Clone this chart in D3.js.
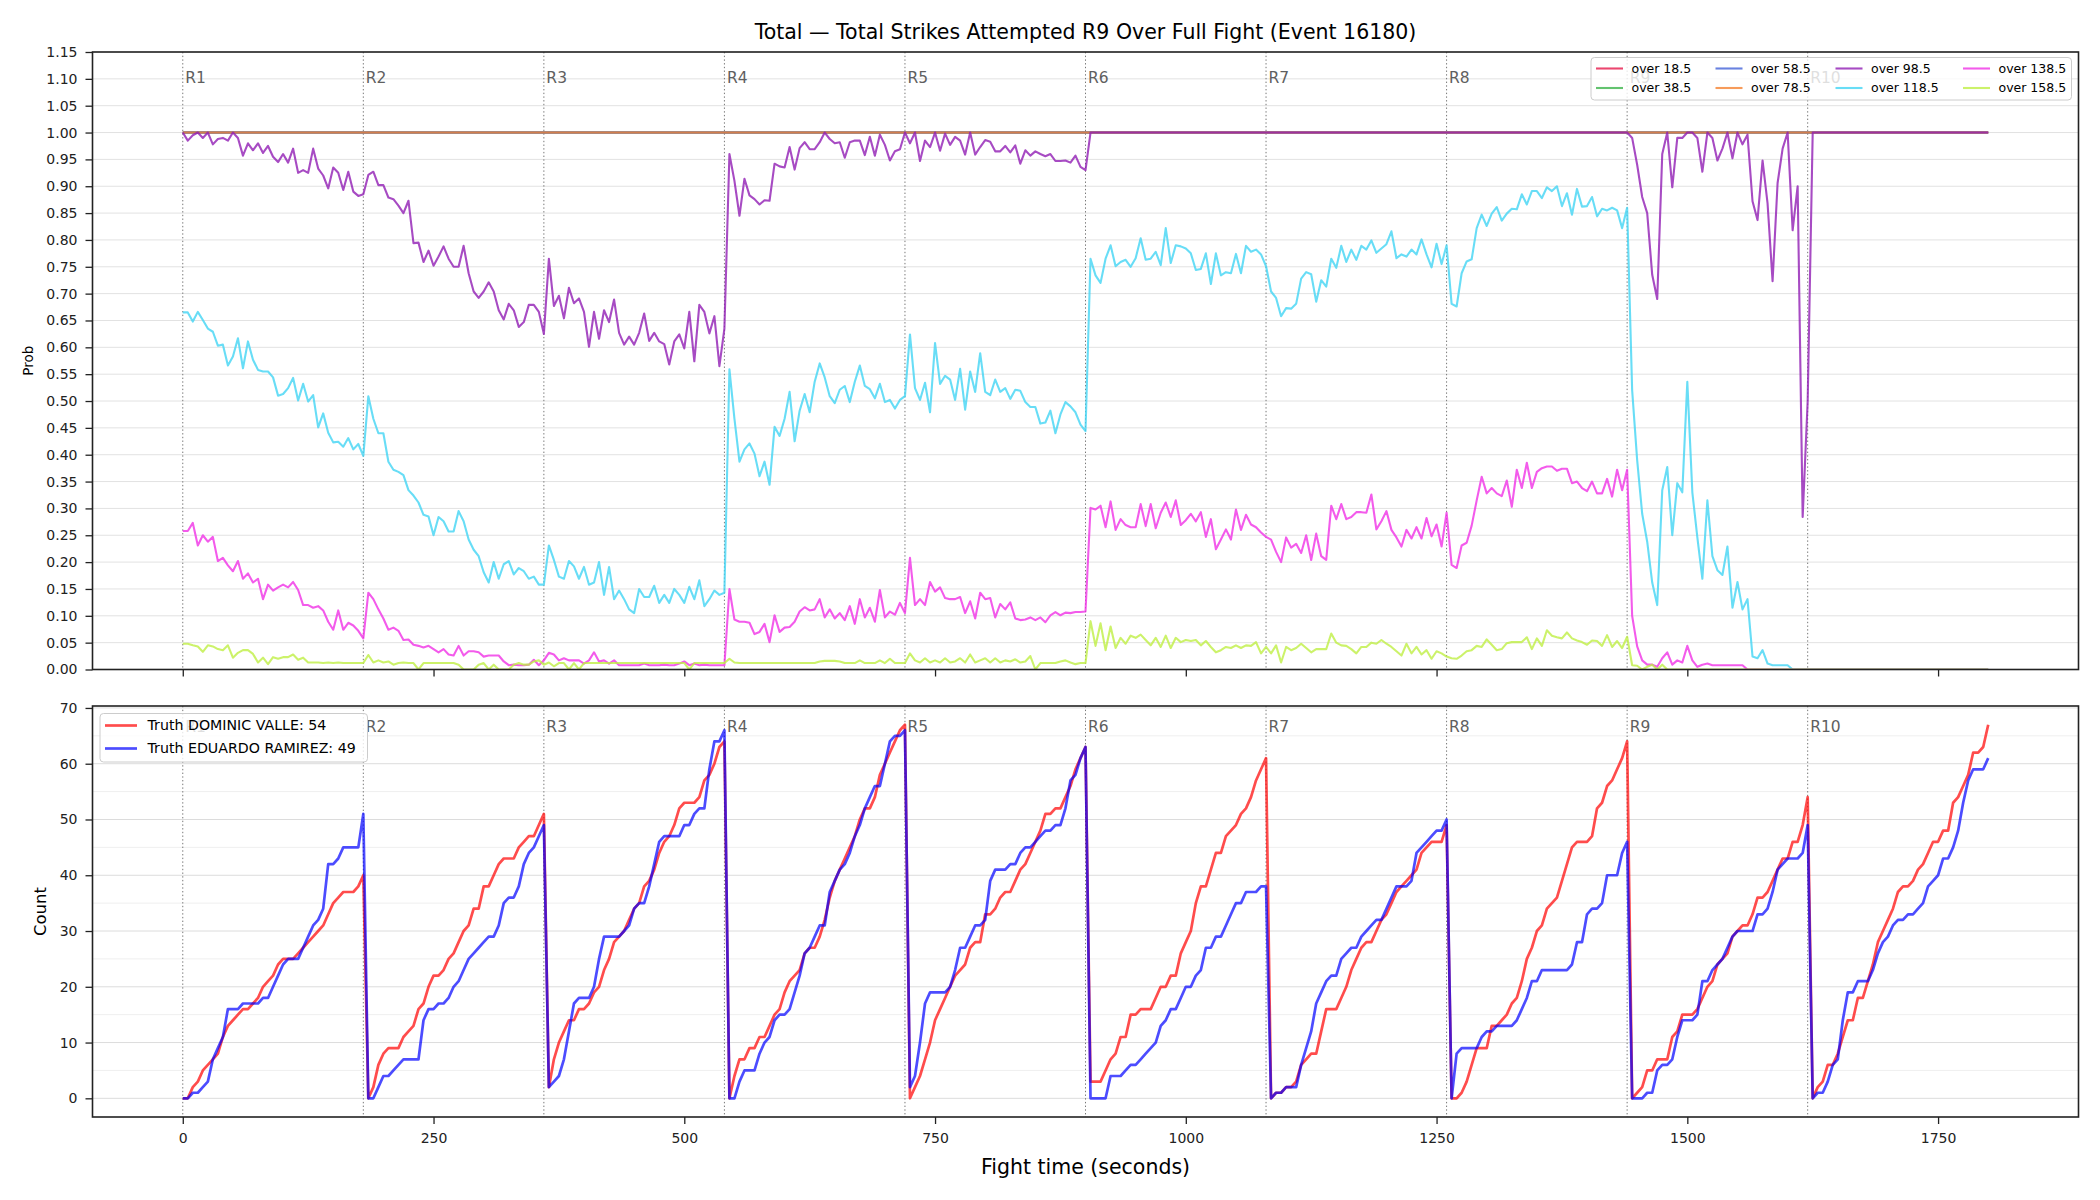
<!DOCTYPE html>
<html>
<head>
<meta charset="utf-8">
<script src="https://cdn.jsdelivr.net/npm/d3@7/dist/d3.min.js"></script>
<style>
  body { margin: 0; background: #ffffff; }
  svg text { font-family: "DejaVu Sans", sans-serif; }
</style>
</head>
<body>
<div id="fight-chart"></div>
<script>
// samples every 5 seconds, index 0 = 0s ... index 360 = 1800s
var sampleStep = 5;

var roundStarts = [0, 180, 360, 540, 720, 900, 1080, 1260, 1440, 1620];
var roundNames = ["R1", "R2", "R3", "R4", "R5", "R6", "R7", "R8", "R9", "R10"];

var probTicks = [0.00, 0.05, 0.10, 0.15, 0.20, 0.25, 0.30, 0.35, 0.40, 0.45, 0.50, 0.55,
                 0.60, 0.65, 0.70, 0.75, 0.80, 0.85, 0.90, 0.95, 1.00, 1.05, 1.10, 1.15];
var countTicks = [0, 10, 20, 30, 40, 50, 60, 70];
var countMinorTicks = [5, 15, 25, 35, 45, 55, 65];
var timeTicks = [0, 250, 500, 750, 1000, 1250, 1500, 1750];

var lineNames = ["over 18.5", "over 38.5", "over 58.5", "over 78.5",
                 "over 98.5", "over 118.5", "over 138.5", "over 158.5"];

// P(total > line), one row per round
var over18 = [
  1,1,1,1,1,1, 1,1,1,1,1,1, 1,1,1,1,1,1, 1,1,1,1,1,1, 1,1,1,1,1,1, 1,1,1,1,1,1,
  1,1,1,1,1,1, 1,1,1,1,1,1, 1,1,1,1,1,1, 1,1,1,1,1,1, 1,1,1,1,1,1, 1,1,1,1,1,1,
  1,1,1,1,1,1, 1,1,1,1,1,1, 1,1,1,1,1,1, 1,1,1,1,1,1, 1,1,1,1,1,1, 1,1,1,1,1,1,
  1,1,1,1,1,1, 1,1,1,1,1,1, 1,1,1,1,1,1, 1,1,1,1,1,1, 1,1,1,1,1,1, 1,1,1,1,1,1,
  1,1,1,1,1,1, 1,1,1,1,1,1, 1,1,1,1,1,1, 1,1,1,1,1,1, 1,1,1,1,1,1, 1,1,1,1,1,1,
  1,1,1,1,1,1, 1,1,1,1,1,1, 1,1,1,1,1,1, 1,1,1,1,1,1, 1,1,1,1,1,1, 1,1,1,1,1,1,
  1,1,1,1,1,1, 1,1,1,1,1,1, 1,1,1,1,1,1, 1,1,1,1,1,1, 1,1,1,1,1,1, 1,1,1,1,1,1,
  1,1,1,1,1,1, 1,1,1,1,1,1, 1,1,1,1,1,1, 1,1,1,1,1,1, 1,1,1,1,1,1, 1,1,1,1,1,1,
  1,1,1,1,1,1, 1,1,1,1,1,1, 1,1,1,1,1,1, 1,1,1,1,1,1, 1,1,1,1,1,1, 1,1,1,1,1,1,
  1,1,1,1,1,1, 1,1,1,1,1,1, 1,1,1,1,1,1, 1,1,1,1,1,1, 1,1,1,1,1,1, 1,1,1,1,1,1,
  1
];
var over38 = [
  1,1,1,1,1,1, 1,1,1,1,1,1, 1,1,1,1,1,1, 1,1,1,1,1,1, 1,1,1,1,1,1, 1,1,1,1,1,1,
  1,1,1,1,1,1, 1,1,1,1,1,1, 1,1,1,1,1,1, 1,1,1,1,1,1, 1,1,1,1,1,1, 1,1,1,1,1,1,
  1,1,1,1,1,1, 1,1,1,1,1,1, 1,1,1,1,1,1, 1,1,1,1,1,1, 1,1,1,1,1,1, 1,1,1,1,1,1,
  1,1,1,1,1,1, 1,1,1,1,1,1, 1,1,1,1,1,1, 1,1,1,1,1,1, 1,1,1,1,1,1, 1,1,1,1,1,1,
  1,1,1,1,1,1, 1,1,1,1,1,1, 1,1,1,1,1,1, 1,1,1,1,1,1, 1,1,1,1,1,1, 1,1,1,1,1,1,
  1,1,1,1,1,1, 1,1,1,1,1,1, 1,1,1,1,1,1, 1,1,1,1,1,1, 1,1,1,1,1,1, 1,1,1,1,1,1,
  1,1,1,1,1,1, 1,1,1,1,1,1, 1,1,1,1,1,1, 1,1,1,1,1,1, 1,1,1,1,1,1, 1,1,1,1,1,1,
  1,1,1,1,1,1, 1,1,1,1,1,1, 1,1,1,1,1,1, 1,1,1,1,1,1, 1,1,1,1,1,1, 1,1,1,1,1,1,
  1,1,1,1,1,1, 1,1,1,1,1,1, 1,1,1,1,1,1, 1,1,1,1,1,1, 1,1,1,1,1,1, 1,1,1,1,1,1,
  1,1,1,1,1,1, 1,1,1,1,1,1, 1,1,1,1,1,1, 1,1,1,1,1,1, 1,1,1,1,1,1, 1,1,1,1,1,1,
  1
];
var over58 = [
  1,1,1,1,1,1, 1,1,1,1,1,1, 1,1,1,1,1,1, 1,1,1,1,1,1, 1,1,1,1,1,1, 1,1,1,1,1,1,
  1,1,1,1,1,1, 1,1,1,1,1,1, 1,1,1,1,1,1, 1,1,1,1,1,1, 1,1,1,1,1,1, 1,1,1,1,1,1,
  1,1,1,1,1,1, 1,1,1,1,1,1, 1,1,1,1,1,1, 1,1,1,1,1,1, 1,1,1,1,1,1, 1,1,1,1,1,1,
  1,1,1,1,1,1, 1,1,1,1,1,1, 1,1,1,1,1,1, 1,1,1,1,1,1, 1,1,1,1,1,1, 1,1,1,1,1,1,
  1,1,1,1,1,1, 1,1,1,1,1,1, 1,1,1,1,1,1, 1,1,1,1,1,1, 1,1,1,1,1,1, 1,1,1,1,1,1,
  1,1,1,1,1,1, 1,1,1,1,1,1, 1,1,1,1,1,1, 1,1,1,1,1,1, 1,1,1,1,1,1, 1,1,1,1,1,1,
  1,1,1,1,1,1, 1,1,1,1,1,1, 1,1,1,1,1,1, 1,1,1,1,1,1, 1,1,1,1,1,1, 1,1,1,1,1,1,
  1,1,1,1,1,1, 1,1,1,1,1,1, 1,1,1,1,1,1, 1,1,1,1,1,1, 1,1,1,1,1,1, 1,1,1,1,1,1,
  1,1,1,1,1,1, 1,1,1,1,1,1, 1,1,1,1,1,1, 1,1,1,1,1,1, 1,1,1,1,1,1, 1,1,1,1,1,1,
  1,1,1,1,1,1, 1,1,1,1,1,1, 1,1,1,1,1,1, 1,1,1,1,1,1, 1,1,1,1,1,1, 1,1,1,1,1,1,
  1
];
var over78 = [
  1,1,1,1,1,1, 1,1,1,1,1,1, 1,1,1,1,1,1, 1,1,1,1,1,1, 1,1,1,1,1,1, 1,1,1,1,1,1,
  1,1,1,1,1,1, 1,1,1,1,1,1, 1,1,1,1,1,1, 1,1,1,1,1,1, 1,1,1,1,1,1, 1,1,1,1,1,1,
  1,1,1,1,1,1, 1,1,1,1,1,1, 1,1,1,1,1,1, 1,1,1,1,1,1, 1,1,1,1,1,1, 1,1,1,1,1,1,
  1,1,1,1,1,1, 1,1,1,1,1,1, 1,1,1,1,1,1, 1,1,1,1,1,1, 1,1,1,1,1,1, 1,1,1,1,1,1,
  1,1,1,1,1,1, 1,1,1,1,1,1, 1,1,1,1,1,1, 1,1,1,1,1,1, 1,1,1,1,1,1, 1,1,1,1,1,1,
  1,1,1,1,1,1, 1,1,1,1,1,1, 1,1,1,1,1,1, 1,1,1,1,1,1, 1,1,1,1,1,1, 1,1,1,1,1,1,
  1,1,1,1,1,1, 1,1,1,1,1,1, 1,1,1,1,1,1, 1,1,1,1,1,1, 1,1,1,1,1,1, 1,1,1,1,1,1,
  1,1,1,1,1,1, 1,1,1,1,1,1, 1,1,1,1,1,1, 1,1,1,1,1,1, 1,1,1,1,1,1, 1,1,1,1,1,1,
  1,1,1,1,1,1, 1,1,1,1,1,1, 1,1,1,1,1,1, 1,1,1,1,1,1, 1,1,1,1,1,1, 1,1,1,1,1,1,
  1,1,1,1,1,1, 1,1,1,1,1,1, 1,1,1,1,1,1, 1,1,1,1,1,1, 1,1,1,1,1,1, 1,1,1,1,1,1,
  1
];
var over98 = [
  1.00,0.985,0.995,1.00,0.99,1.00, 0.978,0.988,0.99,0.985,1.00,0.99, 0.957,0.98,0.967,0.98,0.962,0.975, 0.955,0.945,0.96,0.944,0.97,0.925, 0.93,0.925,0.97,0.933,0.92,0.896, 0.935,0.925,0.893,0.927,0.89,0.882,
  0.885,0.921,0.927,0.902,0.902,0.879, 0.876,0.864,0.850,0.873,0.794,0.795, 0.759,0.780,0.752,0.769,0.788,0.765, 0.750,0.750,0.789,0.738,0.704,0.692, 0.704,0.721,0.704,0.669,0.652,0.681, 0.669,0.638,0.647,0.679,0.679,0.666,
  0.625,0.765,0.677,0.696,0.654,0.711, 0.682,0.691,0.666,0.601,0.666,0.616, 0.669,0.647,0.689,0.627,0.605,0.620, 0.605,0.627,0.663,0.612,0.627,0.611, 0.606,0.568,0.611,0.624,0.598,0.666, 0.574,0.679,0.666,0.626,0.658,0.565,
  0.635,0.96,0.91,0.845,0.914,0.883, 0.876,0.866,0.874,0.873,0.942,0.937, 0.935,0.973,0.931,0.971,0.982,0.969, 0.969,0.982,1.0,0.988,0.980,0.982, 0.953,0.982,0.985,0.985,0.958,0.992, 0.957,0.996,0.977,0.948,0.965,0.969,
  1.0,0.98,1.0,0.947,0.985,0.973, 1.0,0.966,0.998,0.977,0.992,0.985, 0.959,1.0,0.959,0.973,0.986,0.983, 0.965,0.965,0.975,0.963,0.976,0.942, 0.967,0.957,0.965,0.960,0.956,0.960, 0.947,0.947,0.948,0.944,0.957,0.936,
  0.93,1,1,1,1,1, 1,1,1,1,1,1, 1,1,1,1,1,1, 1,1,1,1,1,1, 1,1,1,1,1,1, 1,1,1,1,1,1,
  1,1,1,1,1,1, 1,1,1,1,1,1, 1,1,1,1,1,1, 1,1,1,1,1,1, 1,1,1,1,1,1, 1,1,1,1,1,1,
  1,1,1,1,1,1, 1,1,1,1,1,1, 1,1,1,1,1,1, 1,1,1,1,1,1, 1,1,1,1,1,1, 1,1,1,1,1,1,
  1.0,0.99,0.94,0.88,0.85,0.735, 0.69,0.96,1.0,0.898,0.99,0.99, 1.0,1.0,0.99,0.927,1.0,0.99, 0.948,0.97,1.0,0.952,1.0,0.978, 0.996,0.872,0.837,0.948,0.868,0.723, 0.906,0.97,1.0,0.818,0.90,0.284,
  0.50,1,1,1,1,1, 1,1,1,1,1,1, 1,1,1,1,1,1, 1,1,1,1,1,1, 1,1,1,1,1,1, 1,1,1,1,1,1,
  1
];
var over118 = [
  0.665,0.665,0.648,0.666,0.651,0.635, 0.629,0.603,0.605,0.566,0.583,0.617, 0.561,0.611,0.577,0.558,0.555,0.555, 0.544,0.510,0.513,0.524,0.543,0.501, 0.532,0.499,0.511,0.451,0.477,0.441, 0.423,0.424,0.415,0.431,0.410,0.420,
  0.398,0.509,0.467,0.44,0.44,0.387, 0.372,0.368,0.362,0.334,0.324,0.311, 0.288,0.285,0.25,0.284,0.276,0.257, 0.257,0.295,0.276,0.242,0.223,0.211, 0.181,0.162,0.20,0.169,0.196,0.202, 0.177,0.189,0.183,0.169,0.173,0.158,
  0.158,0.231,0.204,0.173,0.169,0.202, 0.192,0.169,0.191,0.158,0.162,0.20, 0.139,0.191,0.131,0.147,0.131,0.112, 0.105,0.15,0.135,0.135,0.156,0.124, 0.139,0.124,0.15,0.139,0.124,0.154, 0.131,0.166,0.118,0.131,0.147,0.139,
  0.143,0.559,0.467,0.387,0.41,0.421, 0.402,0.36,0.387,0.344,0.452,0.435, 0.467,0.517,0.425,0.482,0.513,0.479, 0.536,0.57,0.544,0.509,0.496,0.521, 0.528,0.498,0.536,0.566,0.528,0.522, 0.505,0.532,0.498,0.502,0.486,0.502,
  0.509,0.624,0.524,0.502,0.534,0.479, 0.608,0.532,0.547,0.540,0.502,0.560, 0.484,0.555,0.517,0.589,0.517,0.511, 0.540,0.517,0.524,0.504,0.521,0.519, 0.498,0.489,0.489,0.458,0.46,0.482, 0.44,0.475,0.498,0.49,0.479,0.456,
  0.444,0.765,0.734,0.72,0.765,0.79, 0.751,0.759,0.763,0.75,0.766,0.803, 0.763,0.765,0.778,0.753,0.822,0.757, 0.79,0.788,0.784,0.775,0.744,0.746, 0.775,0.718,0.775,0.734,0.74,0.738, 0.774,0.738,0.789,0.778,0.782,0.773,
  0.751,0.704,0.692,0.658,0.673,0.672, 0.681,0.728,0.74,0.736,0.685,0.725, 0.713,0.765,0.748,0.789,0.759,0.782, 0.763,0.789,0.782,0.799,0.776,0.784, 0.792,0.816,0.766,0.773,0.769,0.782, 0.773,0.801,0.773,0.749,0.793,0.755,
  0.790,0.681,0.676,0.738,0.760,0.764, 0.822,0.847,0.826,0.849,0.861,0.836, 0.849,0.858,0.857,0.885,0.866,0.891, 0.891,0.878,0.898,0.891,0.90,0.863, 0.887,0.847,0.895,0.862,0.863,0.880, 0.844,0.858,0.855,0.860,0.855,0.822,
  0.86,0.52,0.39,0.29,0.238,0.162, 0.12,0.334,0.377,0.25,0.347,0.33, 0.536,0.33,0.246,0.169,0.315,0.211, 0.185,0.176,0.229,0.115,0.163,0.112, 0.131,0.024,0.021,0.036,0.011,0.008, 0.008,0.008,0.008,0,0,0,
  0,0,0,0,0,0, 0,0,0,0,0,0, 0,0,0,0,0,0, 0,0,0,0,0,0, 0,0,0,0,0,0, 0,0,0,0,0,0,
  0
];
var over138 = [
  0.258,0.258,0.273,0.231,0.250,0.238, 0.247,0.202,0.208,0.194,0.183,0.202, 0.169,0.179,0.162,0.169,0.131,0.158, 0.147,0.153,0.158,0.153,0.163,0.148, 0.120,0.120,0.115,0.118,0.110,0.089, 0.074,0.110,0.074,0.087,0.082,0.072,
  0.058,0.143,0.131,0.112,0.095,0.074, 0.078,0.072,0.055,0.056,0.046,0.044, 0.041,0.044,0.038,0.032,0.038,0.028, 0.026,0.044,0.026,0.034,0.034,0.032, 0.024,0.026,0.026,0.026,0.015,0.008, 0.009,0.008,0.008,0.009,0.018,0.008,
  0.017,0.031,0.028,0.017,0.021,0.017, 0.017,0.017,0.011,0.017,0.032,0.015, 0.017,0.011,0.017,0.008,0.008,0.008, 0.008,0.008,0.011,0.008,0.008,0.008, 0.009,0.008,0.008,0.011,0.015,0.008, 0.011,0.008,0.009,0.008,0.008,0.008,
  0.008,0.150,0.093,0.089,0.089,0.087, 0.066,0.070,0.085,0.051,0.101,0.070, 0.078,0.079,0.089,0.108,0.116,0.110, 0.112,0.131,0.097,0.112,0.095,0.105, 0.092,0.118,0.085,0.131,0.097,0.115, 0.089,0.148,0.097,0.108,0.102,0.124,
  0.105,0.208,0.120,0.131,0.120,0.163, 0.145,0.153,0.133,0.131,0.131,0.135, 0.105,0.127,0.095,0.143,0.131,0.133, 0.097,0.122,0.112,0.125,0.095,0.092, 0.093,0.097,0.092,0.097,0.088,0.101, 0.107,0.101,0.106,0.105,0.107,0.107,
  0.108,0.301,0.298,0.305,0.265,0.313, 0.260,0.280,0.269,0.265,0.265,0.308, 0.267,0.308,0.263,0.292,0.311,0.284, 0.315,0.269,0.278,0.290,0.276,0.293, 0.247,0.280,0.224,0.242,0.261,0.242, 0.298,0.260,0.288,0.270,0.265,0.255,
  0.247,0.242,0.219,0.200,0.246,0.227, 0.234,0.217,0.250,0.204,0.253,0.211, 0.204,0.305,0.280,0.308,0.280,0.284, 0.293,0.293,0.292,0.326,0.261,0.276, 0.295,0.260,0.246,0.229,0.260,0.244, 0.265,0.244,0.282,0.248,0.270,0.229,
  0.292,0.195,0.189,0.231,0.236,0.268, 0.315,0.359,0.328,0.338,0.328,0.323, 0.352,0.303,0.372,0.338,0.385,0.338, 0.368,0.375,0.378,0.378,0.370,0.374, 0.374,0.347,0.350,0.338,0.332,0.350, 0.328,0.328,0.355,0.322,0.372,0.334,
  0.372,0.10,0.043,0.017,0.009,0.009, 0.005,0.021,0.032,0.009,0.017,0.013, 0.044,0.017,0.005,0.009,0.011,0.008, 0.008,0.008,0.008,0.008,0.008,0.008, 0,0,0,0,0,0, 0,0,0,0,0,0,
  0,0,0,0,0,0, 0,0,0,0,0,0, 0,0,0,0,0,0, 0,0,0,0,0,0, 0,0,0,0,0,0, 0,0,0,0,0,0,
  0
];
var over158 = [
  0.048,0.048,0.045,0.043,0.033,0.045, 0.043,0.038,0.036,0.045,0.022,0.031, 0.036,0.036,0.029,0.013,0.022,0.010, 0.023,0.020,0.023,0.023,0.028,0.018, 0.022,0.013,0.013,0.013,0.012,0.013, 0.012,0.013,0.012,0.012,0.012,0.012,
  0.012,0.027,0.013,0.017,0.013,0.015, 0.009,0.012,0.013,0.012,0.012,0, 0.012,0.012,0.012,0.012,0.012,0.012, 0.012,0.009,0,0,0,0.009, 0.012,0,0.009,0,0,0, 0.009,0.012,0.009,0.009,0.015,0.017,
  0.009,0.013,0.006,0.012,0.012,0, 0.012,0,0.012,0.012,0.012,0.012, 0.012,0.012,0.012,0.012,0.012,0.012, 0.012,0.012,0.012,0.012,0.012,0.012, 0.012,0.012,0.012,0.012,0.012,0, 0.012,0.012,0.012,0.012,0.012,0.012,
  0.012,0.020,0.013,0.012,0.012,0.012, 0.012,0.012,0.012,0.012,0.012,0.012, 0.012,0.012,0.012,0.012,0.012,0.012, 0.012,0.015,0.016,0.016,0.016,0.015, 0.012,0.012,0.012,0.017,0.012,0.012, 0.012,0.017,0.012,0.020,0.012,0.012,
  0.012,0.030,0.017,0.013,0.021,0.013, 0.017,0.013,0.021,0.013,0.015,0.021, 0.013,0.028,0.013,0.017,0.021,0.013, 0.021,0.013,0.017,0.015,0.019,0.013, 0.015,0.025,0,0.012,0.012,0.012, 0.012,0.015,0.017,0.013,0.010,0.012,
  0.012,0.090,0.044,0.086,0.036,0.080, 0.040,0.059,0.048,0.063,0.059,0.065, 0.055,0.045,0.059,0.042,0.063,0.040, 0.059,0.051,0.055,0.053,0.055,0.045, 0.053,0.042,0.032,0.036,0.042,0.040, 0.045,0.040,0.045,0.044,0.051,0.030,
  0.042,0.030,0.045,0.013,0.042,0.036, 0.040,0.048,0.040,0.032,0.038,0.038, 0.038,0.067,0.050,0.045,0.044,0.038, 0.030,0.042,0.042,0.050,0.048,0.055, 0.048,0.042,0.034,0.026,0.048,0.030, 0.042,0.028,0.036,0.020,0.034,0.030,
  0.024,0.021,0.020,0.026,0.034,0.036, 0.044,0.042,0.056,0.046,0.036,0.038, 0.049,0.051,0.051,0.051,0.060,0.038, 0.058,0.044,0.073,0.063,0.060,0.058, 0.069,0.058,0.054,0.051,0.046,0.054, 0.053,0.044,0.064,0.042,0.053,0.040,
  0.061,0.008,0.007,0,0.005,0.009, 0,0.009,0,0,0,0, 0,0,0,0,0,0, 0,0,0,0,0,0, 0,0,0,0,0,0, 0,0,0,0,0,0,
  0,0,0,0,0,0, 0,0,0,0,0,0, 0,0,0,0,0,0, 0,0,0,0,0,0, 0,0,0,0,0,0, 0,0,0,0,0,0,
  0
];

// cumulative strikes attempted inside each round (R1 has 0s..180s, then 36 samples per round)
var fighterNames = ["Truth DOMINIC VALLE: 54", "Truth EDUARDO RAMIREZ: 49"];
var truthDominic = [
  0,0,2,3,5,6,7,8,11,13, 14,15,16,16,17,18,20,21,22,24, 25,25,25,26,27,28,29,30,31,33, 35,36,37,37,37,38,40,
  0,2,6,8,9,9,9,11,12,13, 16,17,20,22,22,23,25,26,28,30, 31,34,34,38,38,40,42,43,43,43, 45,46,47,47,49,51,
  2,7,10,12,14,14,16,16,17,19, 20,23,25,28,29,30,32,34,35,38, 39,41,44,46,47,49,52,53,53,53, 54,57,58,60,63,64,
  0,4,7,7,9,9,11,11,13,15, 16,19,21,22,23,26,27,27,29,32, 36,39,41,43,45,47,50,52,52,54, 58,60,62,64,66,67,
  0,2,4,7,10,14,16,18,20,22, 23,24,27,28,28,33,33,34,36,37, 37,39,41,42,44,46,48,51,51,52, 52,54,56,59,61,63,
  3,3,3,5,7,8,11,11,15,15, 16,16,16,18,20,20,22,22,26,28, 30,35,38,38,41,44,44,47,48,49, 51,52,54,57,59,61,
  0,1,1,2,2,3,6,7,8,8, 12,16,16,16,18,20,23,25,27,28, 28,30,32,33,35,37,38,39,40,41, 44,45,46,46,46,49,
  0,0,1,3,6,9,9,9,13,13, 14,15,17,18,21,25,27,30,31,34, 35,36,39,42,45,46,46,46,47,52, 53,56,57,59,61,64,
  0,1,2,5,5,7,7,7,11,12, 15,15,15,16,18,20,21,24,25,26, 29,30,31,31,33,36,36,37,39,41, 43,43,46,46,49,54,
  0,2,3,6,6,8,11,14,14,18, 18,21,24,28,30,32,34,37,38,38, 39,41,42,44,46,46,48,48,53,54, 56,58,62,62,63,67
];
var truthEduardo = [
  0,0,1,1,2,3,7,9,11,16, 16,16,17,17,17,17,18,18,20,22, 24,25,25,25,27,29,31,32,34,42, 42,43,45,45,45,45,51,
  0,0,2,4,4,5,6,7,7,7, 7,14,16,16,17,17,18,20,21,23, 25,26,27,28,29,29,31,35,36,36, 38,42,44,45,47,49,
  2,3,4,7,12,17,18,18,18,20, 25,29,29,29,29,30,31,34,35,35, 38,42,46,47,47,47,47,49,49,51, 52,52,59,64,64,66,
  0,0,3,5,5,5,8,10,11,14, 15,15,16,19,22,26,27,29,31,31, 37,39,41,42,44,47,49,52,54,56, 56,60,64,65,65,66,
  2,4,10,17,19,19,19,19,20,23, 27,27,29,31,31,32,39,41,41,41, 42,42,44,45,45,46,47,48,48,49, 49,52,57,58,61,63,
  0,0,0,0,4,4,4,5,6,6, 7,8,9,10,13,14,16,16,18,20, 20,22,23,27,27,29,29,31,33,35, 35,37,37,37,38,38,
  0,1,1,2,2,2,6,9,12,17, 19,21,22,22,25,26,27,27,29,30, 31,32,32,34,36,38,38,38,39,44, 45,46,47,48,48,50,
  0,8,9,9,9,9,11,12,12,13, 13,13,13,14,16,18,21,21,23,23, 23,23,23,23,24,28,28,33,34,34, 35,40,40,40,44,46,
  0,0,0,1,1,5,6,6,7,11, 14,14,14,15,21,21,23,24,25,27, 29,30,30,30,30,33,33,34,37,41, 42,43,43,43,44,49,
  0,1,1,3,6,7,14,19,19,21, 21,21,23,26,28,29,31,32,32,33, 33,34,35,38,39,40,43,43,45,48, 53,57,59,59,59,61
];

var probColors = ["#e6194b", "#3cb44b", "#4363d8", "#f58231", "#911eb4", "#42d4f4", "#f032e6", "#bfef45"];
var fighterColors = ["#ff0000", "#0000ff"];

function drawFightChart() {
    var width = 2100, height = 1200;
    var plotLeft = 92.5, plotRight = 2078.5;
    var probTop = 52, probBottom = 669.5;
    var countTop = 706, countBottom = 1117;

    var svg = d3.select("#fight-chart")
        .append("svg")
        .attr("width", width)
        .attr("height", height);

    svg.append("rect")
        .attr("width", width)
        .attr("height", height)
        .attr("fill", "#ffffff");

    // scales (matplotlib-like 5% margins on x and on the count axis)
    var x = d3.scaleLinear().domain([-90, 1890]).range([plotLeft, plotRight]);
    var yProb = d3.scaleLinear().domain([0, 1.15]).range([probBottom, probTop]);
    var yCount = d3.scaleLinear().domain([-3.35, 70.35]).range([countBottom, countTop]);

    var defs = svg.append("defs");
    defs.append("clipPath").attr("id", "clip-prob")
        .append("rect")
        .attr("x", plotLeft).attr("y", probTop)
        .attr("width", plotRight - plotLeft).attr("height", probBottom - probTop);
    defs.append("clipPath").attr("id", "clip-count")
        .append("rect")
        .attr("x", plotLeft).attr("y", countTop)
        .attr("width", plotRight - plotLeft).attr("height", countBottom - countTop);

    // title
    svg.append("text")
        .attr("x", (plotLeft + plotRight) / 2)
        .attr("y", 38.5)
        .attr("text-anchor", "middle")
        .attr("font-size", "20.5px")
        .attr("fill", "#000")
        .text("Total \u2014 Total Strikes Attempted R9 Over Full Fight (Event 16180)");

    // ---------- top panel: probabilities ----------
    var probGrid = svg.append("g");
    probTicks.forEach(function (t) {
        probGrid.append("line")
            .attr("x1", plotLeft).attr("x2", plotRight)
            .attr("y1", yProb(t)).attr("y2", yProb(t))
            .attr("stroke", "#e2e2e2")
            .attr("stroke-width", 1);
    });

    drawRoundLines(probTop, probBottom);

    var probLine = d3.line()
        .x(function (d, i) { return x(i * sampleStep); })
        .y(function (d) { return yProb(d); });

    var probSeries = [over18, over38, over58, over78, over98, over118, over138, over158];
    var probLines = svg.append("g").attr("clip-path", "url(#clip-prob)");
    probSeries.forEach(function (values, k) {
        probLines.append("path")
            .datum(values)
            .attr("d", probLine)
            .attr("fill", "none")
            .attr("stroke", probColors[k])
            .attr("stroke-width", 2.1)
            .attr("stroke-opacity", 0.8)
            .attr("stroke-linejoin", "round");
    });

    drawRoundLabels(83);

    svg.append("rect")
        .attr("x", plotLeft).attr("y", probTop)
        .attr("width", plotRight - plotLeft).attr("height", probBottom - probTop)
        .attr("fill", "none")
        .attr("stroke", "#222")
        .attr("stroke-width", 1.6);

    var probAxis = svg.append("g")
        .attr("transform", "translate(" + plotLeft + ",0)")
        .call(d3.axisLeft(yProb).tickValues(probTicks).tickFormat(d3.format(".2f")).tickSize(7).tickPadding(8));
    styleAxis(probAxis);

    var probXAxis = svg.append("g")
        .attr("transform", "translate(0," + probBottom + ")")
        .call(d3.axisBottom(x).tickValues(timeTicks).tickFormat("").tickSize(7));
    styleAxis(probXAxis);

    svg.append("text")
        .attr("transform", "translate(33," + ((probTop + probBottom) / 2) + ") rotate(-90)")
        .attr("text-anchor", "middle")
        .attr("font-size", "13.5px")
        .attr("fill", "#000")
        .text("Prob");

    // legend top right, 4 columns x 2 rows
    var leg = svg.append("g");
    leg.append("rect")
        .attr("x", 1591).attr("y", 57.5)
        .attr("width", 480.5).attr("height", 42.5)
        .attr("rx", 3.5)
        .attr("fill", "#ffffff").attr("fill-opacity", 0.8)
        .attr("stroke", "#cccccc").attr("stroke-width", 1);
    var colX = [1596, 1715.5, 1835.5, 1963];
    var rowY = [68.5, 88];
    lineNames.forEach(function (name, k) {
        var cx = colX[Math.floor(k / 2)], cy = rowY[k % 2];
        leg.append("line")
            .attr("x1", cx).attr("x2", cx + 27)
            .attr("y1", cy).attr("y2", cy)
            .attr("stroke", probColors[k])
            .attr("stroke-width", 2.1)
            .attr("stroke-opacity", 0.8);
        leg.append("text")
            .attr("x", cx + 35.5).attr("y", cy)
            .attr("dy", "0.35em")
            .attr("font-size", "12.5px")
            .attr("fill", "#000")
            .text(name);
    });

    // ---------- bottom panel: counts ----------
    var countGrid = svg.append("g");
    countMinorTicks.forEach(function (t) {
        countGrid.append("line")
            .attr("x1", plotLeft).attr("x2", plotRight)
            .attr("y1", yCount(t)).attr("y2", yCount(t))
            .attr("stroke", "#efefef")
            .attr("stroke-width", 1);
    });
    countTicks.forEach(function (t) {
        countGrid.append("line")
            .attr("x1", plotLeft).attr("x2", plotRight)
            .attr("y1", yCount(t)).attr("y2", yCount(t))
            .attr("stroke", "#dcdcdc")
            .attr("stroke-width", 1);
    });

    drawRoundLines(countTop, countBottom);

    var countLine = d3.line()
        .x(function (d, i) { return x(i * sampleStep); })
        .y(function (d) { return yCount(d); });

    var countLines = svg.append("g").attr("clip-path", "url(#clip-count)");
    [truthDominic, truthEduardo].forEach(function (values, k) {
        countLines.append("path")
            .datum(values)
            .attr("d", countLine)
            .attr("fill", "none")
            .attr("stroke", fighterColors[k])
            .attr("stroke-width", 2.7)
            .attr("stroke-opacity", 0.7)
            .attr("stroke-linejoin", "round");
    });

    drawRoundLabels(731.5);

    svg.append("rect")
        .attr("x", plotLeft).attr("y", countTop)
        .attr("width", plotRight - plotLeft).attr("height", countBottom - countTop)
        .attr("fill", "none")
        .attr("stroke", "#222")
        .attr("stroke-width", 1.6);

    var countAxis = svg.append("g")
        .attr("transform", "translate(" + plotLeft + ",0)")
        .call(d3.axisLeft(yCount).tickValues(countTicks).tickSize(7).tickPadding(8));
    styleAxis(countAxis);

    var timeAxis = svg.append("g")
        .attr("transform", "translate(0," + countBottom + ")")
        .call(d3.axisBottom(x).tickValues(timeTicks).tickFormat(d3.format("d")).tickSize(7).tickPadding(9));
    styleAxis(timeAxis);

    svg.append("text")
        .attr("transform", "translate(46," + ((countTop + countBottom) / 2) + ") rotate(-90)")
        .attr("text-anchor", "middle")
        .attr("font-size", "16.5px")
        .attr("fill", "#000")
        .text("Count");

    svg.append("text")
        .attr("x", (plotLeft + plotRight) / 2)
        .attr("y", 1174)
        .attr("text-anchor", "middle")
        .attr("font-size", "20.5px")
        .attr("fill", "#000")
        .text("Fight time (seconds)");

    // legend upper left
    var leg2 = svg.append("g");
    leg2.append("rect")
        .attr("x", 100).attr("y", 713.5)
        .attr("width", 267.5).attr("height", 48.5)
        .attr("rx", 3.5)
        .attr("fill", "#ffffff").attr("fill-opacity", 0.8)
        .attr("stroke", "#cccccc").attr("stroke-width", 1);
    fighterNames.forEach(function (name, k) {
        var cy = [725.5, 748.5][k];
        leg2.append("line")
            .attr("x1", 105).attr("x2", 137)
            .attr("y1", cy).attr("y2", cy)
            .attr("stroke", fighterColors[k])
            .attr("stroke-width", 2.7)
            .attr("stroke-opacity", 0.7);
        leg2.append("text")
            .attr("x", 147.5).attr("y", cy)
            .attr("dy", "0.35em")
            .attr("font-size", "14.2px")
            .attr("fill", "#000")
            .text(name);
    });

    // dotted round separators
    function drawRoundLines(y0, y1) {
        var g = svg.append("g");
        roundStarts.forEach(function (t) {
            g.append("line")
                .attr("x1", x(t)).attr("x2", x(t))
                .attr("y1", y0).attr("y2", y1)
                .attr("stroke", "#777")
                .attr("stroke-width", 1)
                .attr("stroke-dasharray", "1.4,2.3");
        });
    }

    function drawRoundLabels(yBase) {
        var g = svg.append("g");
        roundStarts.forEach(function (t, i) {
            g.append("text")
                .attr("x", x(t) + 2.5)
                .attr("y", yBase)
                .attr("font-size", "15.5px")
                .attr("fill", "#5f5f5f")
                .text(roundNames[i]);
        });
    }

    function styleAxis(g) {
        g.select(".domain").remove();
        g.selectAll(".tick line").attr("stroke", "#222").attr("stroke-width", 1.3);
        g.selectAll(".tick text")
            .attr("font-size", "14px")
            .attr("font-family", "DejaVu Sans, sans-serif")
            .attr("fill", "#222");
    }
}

drawFightChart();
</script>
</body>
</html>
